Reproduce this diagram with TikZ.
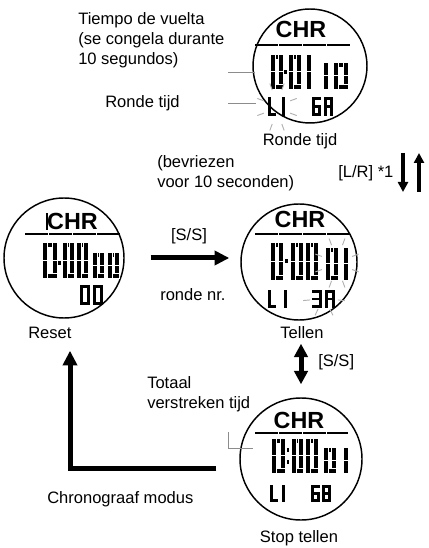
\documentclass[tikz,border=0pt]{standalone}
\usepackage{fontspec}
\setmainfont{Liberation Sans}
\usetikzlibrary{arrows.meta,calc}

% LCD segments in a unit box (y downwards)
\def\sega{\path[lcdseg] (0,0) rectangle (1,\lcdt);}
\def\segb{\path[lcdseg] (1-\lcds,0) rectangle (1,0.5);}
\def\segc{\path[lcdseg] (1-\lcds,0.5) rectangle (1,1);}
\def\segd{\path[lcdseg] (0,1-\lcdt) rectangle (1,1);}
\def\sege{\path[lcdseg] (0,0.5) rectangle (\lcds,1);}
\def\segf{\path[lcdseg] (0,0) rectangle (\lcds,0.5);}
\def\segg{\path[lcdseg] (0,0.5-\lcdt/2) rectangle (1,0.5+\lcdt/2);}
\def\lcdzero{a,b,c,d,e,f}
\def\lcdone{b,c}
\def\lcdthree{a,b,c,d,g}
\def\lcdsix{a,c,d,e,f,g}
\def\lcdeight{a,b,c,d,e,f,g}
\def\lcdA{a,b,c,e,f,g}
\def\lcdL{d,e,f}
% [stroke]{x}{y}{width}{height}{segments}
\newcommand\lcdchar[6][5]{%
  \pgfmathsetmacro\lcds{#1/#4}\pgfmathsetmacro\lcdt{#1/#5}%
  \begin{scope}[shift={(#2,#3)},xscale=#4,yscale=#5]
    \foreach \sg in #6 {\csname seg\sg\endcsname}
  \end{scope}}
% small characters: plain segments
\newcommand\lcdsmall[5]{\begingroup\tikzset{lcdseg/.style={fill=black}}\lcdchar[2.7]{#1}{#2}{#3}{#4}{#5}\endgroup}
\newcommand\lcddot[2]{\fill (#1-1.4,#2-1.6) rectangle (#1+1.4,#2+1.6);}
% blinking marks: {cx}{cy}{rx}{ry}{angles}
\newcommand\flash[5]{%
  \foreach \a in {#5}
    \draw[flashtick] ({#1+#3*cos(\a)},{#2+#4*sin(\a)}) -- ({#1+(#3+7)*cos(\a)},{#2+(#4+7)*sin(\a)});}

\tikzset{
  lcdseg/.style={fill=black,draw=white,line width=0.3pt},
  watch/.style={circle,draw,line width=1.1pt,inner sep=0pt},
  lbl/.style={font=\fontsize{12.4}{15}\selectfont,inner sep=0pt},
  chr/.style={font=\fontsize{17.5}{18}\selectfont\bfseries,inner sep=0pt,anchor=base},
  lcdrule/.style={line width=1.6pt,dash pattern=on 16.9pt off 1.2pt},
  pointer/.style={draw=black!45,line width=0.7pt},
  flashtick/.style={draw=black!30,line width=0.7pt},
  bigarrow/.style={line width=3.75pt,-{Triangle[length=11pt,width=10.5pt]}},
  bidir/.style={line width=3.75pt,{Triangle[length=10pt,width=10pt]}-{Triangle[length=10pt,width=10pt]}},
  lrarrow/.style={line width=3pt,-{Triangle[length=7.5pt,width=7.5pt]}}
}

\begin{document}
\begin{tikzpicture}[x=0.75pt,y=0.75pt,yscale=-1,xscale=1]
\useasboundingbox (0,0) rectangle (428,548);

% watches
\node[watch,minimum size=85.5pt] (lap) at (310,66) {};
\node[watch,minimum size=90pt] (reset) at (64,258) {};
\node[watch,minimum size=87pt] (count) at (299,262) {};
\node[watch,minimum size=91.5pt] (stop) at (301,459) {};

% lap display
\node[chr] (lapchr) at (301,38) {CHR};
\draw[lcdrule] (255,45) -- (350,45);
\lcdchar{270}{54}{13}{35}{\lcdzero}
\lcddot{285.5}{72}
\lcdchar{288}{54}{13}{35}{\lcdzero}
\lcdchar{302}{54}{9}{35}{\lcdone}
\lcdchar{320}{62}{8}{27}{\lcdone}
\lcdchar{333}{62}{15}{27}{\lcdzero}
\lcdsmall{268}{97}{8}{19}{\lcdL}
\lcdsmall{277}{97}{8}{19}{\lcdone}
\lcdsmall{312}{97}{9}{19}{\lcdsix}
\lcdsmall{324}{97}{9}{19}{\lcdA}
\flash{277}{107}{14}{18}{20,160,200,340,70,110,250,290}

% reset display
\fill (45.5,213) rectangle (47.8,230);
\node[chr] (resetchr) at (72.5,230) {CHR};
\draw[lcdrule] (25,234) -- (120,234);
\lcdchar{42}{242}{15}{36}{\lcdzero}
\lcddot{59.5}{263}
\lcdchar{62}{242}{12}{36}{\lcdzero}
\lcdchar{76}{242}{12}{36}{\lcdzero}
\lcdchar{92}{252}{12.5}{26}{\lcdzero}
\lcdchar{107}{252}{12.5}{26}{\lcdzero}
\lcdsmall{80}{285}{10}{20}{\lcdzero}
\lcdsmall{93}{285}{10}{20}{\lcdzero}

% counting display
\node[chr] (countchr) at (300,228) {CHR};
\draw[lcdrule] (255,234) -- (350,234);
\lcdchar{270}{242}{13}{38}{\lcdzero}
\lcddot{286.5}{261}
\lcdchar{290}{242}{13}{38}{\lcdzero}
\lcdchar{305}{242}{13}{38}{\lcdzero}
\lcdchar{325}{247}{13}{33}{\lcdzero}
\lcdchar{339}{247}{9}{33}{\lcdone}
\lcdsmall{268}{290}{8}{18}{\lcdL}
\lcdsmall{279}{290}{8}{18}{\lcdone}
\lcdsmall{312}{290}{10}{18}{\lcdthree}
\lcdsmall{325}{290}{10}{18}{\lcdA}
\flash{337}{263}{16}{19}{20,160,200,340,70,110,250,290}
\flash{324}{299}{14}{11}{175,5,65,115}

% stopped display
\node[chr] (stopchr) at (299,428) {CHR};
\draw[lcdrule] (255,433) -- (348,433);
\lcdchar{271}{438}{14}{35}{\lcdzero}
\lcddot{288}{450}
\lcddot{288}{462}
\lcdchar{291}{438}{12.5}{35}{\lcdzero}
\lcdchar{305.5}{438}{12.5}{35}{\lcdzero}
\lcdchar{323}{447}{13}{26}{\lcdzero}
\lcdchar{339}{447}{9}{26}{\lcdone}
\lcdsmall{270}{485}{8}{17}{\lcdL}
\lcdsmall{277}{485}{8}{17}{\lcdone}
\lcdsmall{311}{485}{9}{17}{\lcdsix}
\lcdsmall{322}{485}{9}{17}{\lcdeight}

% labels
\node[lbl,anchor=north west,align=left] (laptxt) at (78,12) {Tiempo de vuelta\\(se congela durante\\10 segundos)};
\node[lbl,anchor=base west] (laplbl) at (105,108) {Ronde tijd};
\node[lbl,anchor=base] (lapbottom) at (300,146) {Ronde tijd};
\node[lbl,anchor=north west,align=left] (freeze) at (157,155) {(bevriezen\\voor 10 seconden)};
\node[lbl,anchor=base west] (lrkey) at (338,178) {[L/R] *1};
\node[lbl,anchor=base] (sskey) at (189,241) {[S/S]};
\node[lbl,anchor=base west] (lapno) at (160,300) {ronde nr.};
\node[lbl,anchor=base west] (resetlbl) at (28,338) {Reset};
\node[lbl,anchor=base] (countlbl) at (302,338) {Tellen};
\node[lbl,anchor=base west] (sskeyb) at (318,366) {[S/S]};
\node[lbl,anchor=north west,align=left] (total) at (147,376) {Totaal\\verstreken tijd};
\node[lbl,anchor=base west] (mode) at (47,503) {Chronograaf modus};
\node[lbl,anchor=base] (stoplbl) at (299,542) {Stop tellen};

% pointer lines
\draw[pointer] (228,72) -- ($(lap.west)+(3,6)$);
\draw[pointer] (228,103) -- ($(lap.west)+(4,37)$);
\draw[pointer] (228,432) |- ($(stop.west)+(14,-11)$);

% arrows
\coordinate (lrmid) at (411,172);
\draw[lrarrow] ($(lrmid)+(-8,-19)$) -- ($(lrmid)+(-8,20)$);
\draw[lrarrow] ($(lrmid)+(8,20)$) -- ($(lrmid)+(8,-19)$);
\draw[bigarrow] ($(reset.east)+(26,0)$) -- ($(reset.east -| count.west)+(-11,0)$);
\draw[bidir] ($(count.south -| stop.north)+(0,23)$) -- ($(stop.north)+(0,-13)$);
\draw[bigarrow] ($(stop.west)+(-23,9)$) -| ($(reset.south)+(6,32)$);

\end{tikzpicture}
\end{document}
